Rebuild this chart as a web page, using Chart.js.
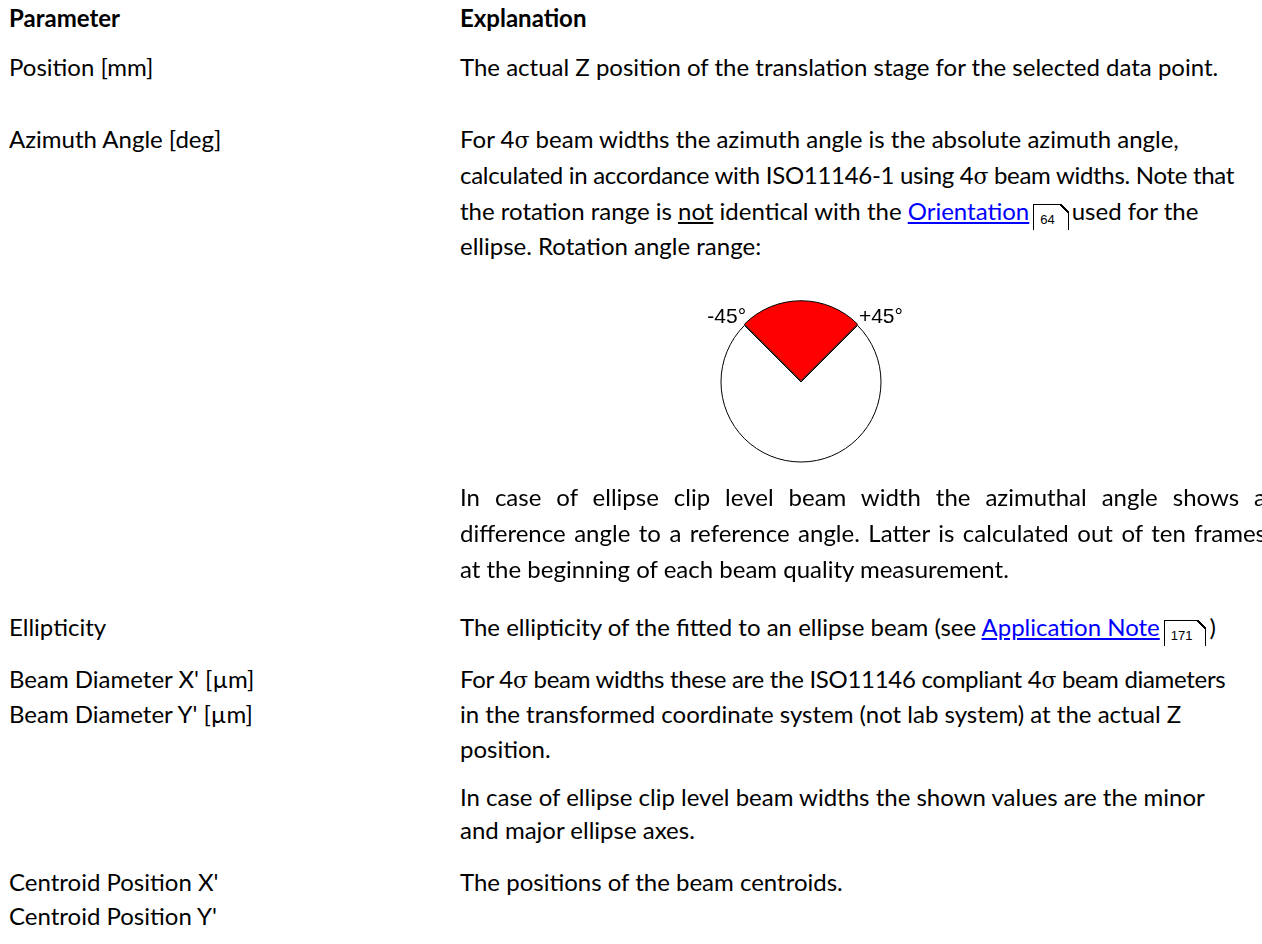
<!DOCTYPE html>
<html>
<head>
<meta charset="utf-8">
<script src="https://cdn.jsdelivr.net/npm/chart.js"></script>
<style>
  html, body { margin: 0; padding: 0; background: #fff; }
  body { width: 1262px; height: 944px; overflow: hidden; position: relative;
         font-family: Lato, "Open Sans", sans-serif; font-size: 24px; color: #000; }
  .ln { position: absolute; white-space: nowrap; line-height: 35px; height: 35px; }
  .ln.b { font-weight: bold; }
  .jst { text-align: justify; text-align-last: justify; width: 806px; }
  a { color: #0000ff; text-decoration: underline; }
  u { text-decoration: underline; }
  .ref { display: inline-block; position: relative; border: 1px solid #000; border-bottom: none;
         height: 25px; line-height: 29px; padding: 0 13px 0 6px; margin: 0 3px 0 4px;
         font-family: "Liberation Sans", Arial, sans-serif; font-size: 13px; vertical-align: -4px; }
  .ref::after { content: ''; position: absolute; top: -1px; right: -1px; width: 9px; height: 9px;
         background: linear-gradient(45deg, transparent 44%, #000 44%, #000 56%, #fff 56%); }
  .sig { font-family: "DejaVu Serif", serif; font-size: 22px; }
  .tight { letter-spacing: -0.3px; }
  #diagram { position: absolute; left: 651px; top: 272px; width: 300px; height: 220px; }
</style>
</head>
<body>

<div class="ln b" style="left:9px;top:0px">Parameter</div>
<div class="ln b" style="left:460px;top:0px">Explanation</div>

<div class="ln" style="left:9px;top:49px">Position [mm]</div>
<div class="ln" style="left:460px;top:49px">The actual Z position of the translation stage for the selected data point.</div>

<div class="ln" style="left:9px;top:121px">Azimuth Angle [deg]</div>
<div class="ln" style="left:460px;top:121px">For 4<span class="sig">σ</span> beam widths the azimuth angle is the absolute azimuth angle,</div>
<div class="ln tight" style="left:460px;top:157px">calculated in accordance with ISO11146-1 using 4<span class="sig">σ</span> beam widths. Note that</div>
<div class="ln" style="left:460px;top:193px">the rotation range is <u>not</u> identical with the <a>Orientation</a><span class="ref">64</span>used for the</div>
<div class="ln" style="left:460px;top:228px">ellipse. Rotation angle range:</div>

<div id="diagram"><canvas id="chart"></canvas></div>

<div class="ln jst" style="left:460px;top:479px">In case of ellipse clip level beam width the azimuthal angle shows a</div>
<div class="ln jst" style="left:460px;top:515px">difference angle to a reference angle. Latter is calculated out of ten frames</div>
<div class="ln" style="left:460px;top:551px">at the beginning of each beam quality measurement.</div>

<div class="ln" style="left:9px;top:609px">Ellipticity</div>
<div class="ln" style="left:460px;top:609px">The ellipticity of the fitted to an ellipse beam (see <a>Application Note</a><span class="ref">171</span>)</div>

<div class="ln" style="left:9px;top:661px">Beam Diameter X' [µm]</div>
<div class="ln" style="left:9px;top:696px">Beam Diameter Y' [µm]</div>
<div class="ln tight" style="left:460px;top:661px">For 4<span class="sig">σ</span> beam widths these are the ISO11146 compliant 4<span class="sig">σ</span> beam diameters</div>
<div class="ln" style="left:460px;top:696px">in the transformed coordinate system (not lab system) at the actual Z</div>
<div class="ln" style="left:460px;top:731px">position.</div>
<div class="ln" style="left:460px;top:779px">In case of ellipse clip level beam widths the shown values are the minor</div>
<div class="ln" style="left:460px;top:812px">and major ellipse axes.</div>

<div class="ln" style="left:9px;top:864px">Centroid Position X'</div>
<div class="ln" style="left:9px;top:898px">Centroid Position Y'</div>
<div class="ln" style="left:460px;top:864px">The positions of the beam centroids.</div>

<script>
// rotation angle range diagram: sector sizes in degrees, starting at -45 deg from top
const sectorNames  = ['Rotation angle range', 'Rest'];
const sectorDegs   = [90, 270];
const sectorColors = ['#ff0000', '#ffffff'];
const sectorOffset = [5, 0];
const startDeg     = -45;
const edgeLabels   = ['-45°', '+45°'];

// -45° / +45° written at the two corners of the red sector
const edgeLabelPlugin = {
  id: 'edgeLabels',
  afterDatasetsDraw(chart) {
    const arc = chart.getDatasetMeta(0).data[0];
    const { x, y, startAngle, endAngle, outerRadius } = arc.getProps(['x', 'y', 'startAngle', 'endAngle', 'outerRadius'], true);
    const mid = (startAngle + endAngle) / 2;
    const off = sectorOffset[0];
    const cx = x + Math.cos(mid) * off, cy = y + Math.sin(mid) * off;
    const r = outerRadius + 0.5;
    const ctx = chart.ctx;
    ctx.save();
    ctx.font = '21px "Liberation Sans", Arial, sans-serif';
    ctx.fillStyle = '#000';
    ctx.textBaseline = 'middle';
    ctx.textAlign = 'right';
    ctx.fillText(edgeLabels[0], cx + Math.cos(startAngle) * r + 2, cy + Math.sin(startAngle) * r - 3);
    ctx.textAlign = 'left';
    ctx.fillText(edgeLabels[1], cx + Math.cos(endAngle) * r + 1, cy + Math.sin(endAngle) * r - 3);
    ctx.restore();
  }
};

new Chart(document.getElementById('chart'), {
  type: 'pie',
  data: {
    labels: sectorNames,
    datasets: [{
      data: sectorDegs,
      backgroundColor: sectorColors,
      borderColor: '#000',
      borderWidth: 1,
      offset: sectorOffset,
      hoverOffset: 0
    }]
  },
  options: {
    responsive: true,
    maintainAspectRatio: false,
    animation: false,
    radius: 80,
    rotation: startDeg,
    layout: { padding: 0 },
    events: [],
    plugins: {
      legend: { display: false },
      tooltip: { enabled: false }
    }
  },
  plugins: [edgeLabelPlugin]
});
</script>
</body>
</html>
